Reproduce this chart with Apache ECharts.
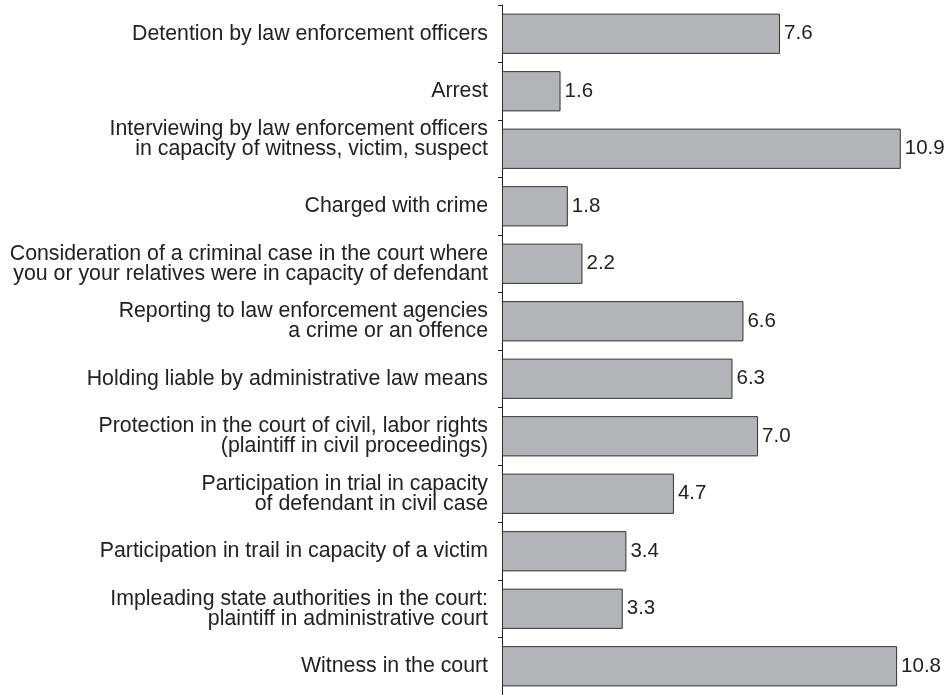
<!DOCTYPE html>
<html><head><meta charset="utf-8">
<script src="https://cdn.jsdelivr.net/npm/echarts@6/dist/echarts.min.js"></script>
<style>html,body{margin:0;padding:0;background:#fff}#c{width:952px;height:695px}</style>
</head><body><div id="c"></div>
<script>
const categories = [
  "Detention by law enforcement officers",
  "Arrest",
  "Interviewing by law enforcement officers\nin capacity of witness, victim, suspect",
  "Charged with crime",
  "Consideration of a criminal case in the court where\nyou or your relatives were in capacity of defendant",
  "Reporting to law enforcement agencies\na crime or an offence",
  "Holding liable by administrative law means",
  "Protection in the court of civil, labor rights\n(plaintiff in civil proceedings)",
  "Participation in trial in capacity\nof defendant in civil case",
  "Participation in trail in capacity of a victim",
  "Impleading state authorities in the court:\nplaintiff in administrative court",
  "Witness in the court"
];
const values = [7.6, 1.6, 10.9, 1.8, 2.2, 6.6, 6.3, 7.0, 4.7, 3.4, 3.3, 10.8];

// categories whose label sits a bit higher than the bar centre (layout only)
const raisedLabels = [2];

const FONT = "'Liberation Sans', Arial, Helvetica, sans-serif";
const chart = echarts.init(document.getElementById('c'), null, {renderer:'canvas'});
chart.setOption({
  animation: false,
  backgroundColor: '#fff',
  grid: {left: 502, right: 11, top: 5, height: 694, containLabel: false},
  xAxis: {type: 'value', min: 0, max: 12, show: false},
  yAxis: {
    type: 'category', data: categories, inverse: true,
    axisLine: {show: true, lineStyle: {color: '#222', width: 1}},
    axisTick: {show: true, inside: false, length: 4, alignWithLabel: false, lineStyle: {color: '#222'}},
    axisLabel: {color: '#222', fontFamily: FONT, fontSize: 21.3, lineHeight: 20, margin: 14, align: 'right',
      formatter: (v, i) => raisedLabels.includes(i) ? v + '\n ' : v},
    splitLine: {show: false}
  },
  series: [{
    type: 'bar', data: values, barWidth: '70%',
    itemStyle: {color: '#b3b4b8', borderColor: '#333', borderWidth: 1},
    label: {show: true, position: 'right', distance: 4, color: '#222', fontFamily: FONT, fontSize: 20.5,
      formatter: p => p.value.toFixed(1)}
  }]
});
</script></body></html>
